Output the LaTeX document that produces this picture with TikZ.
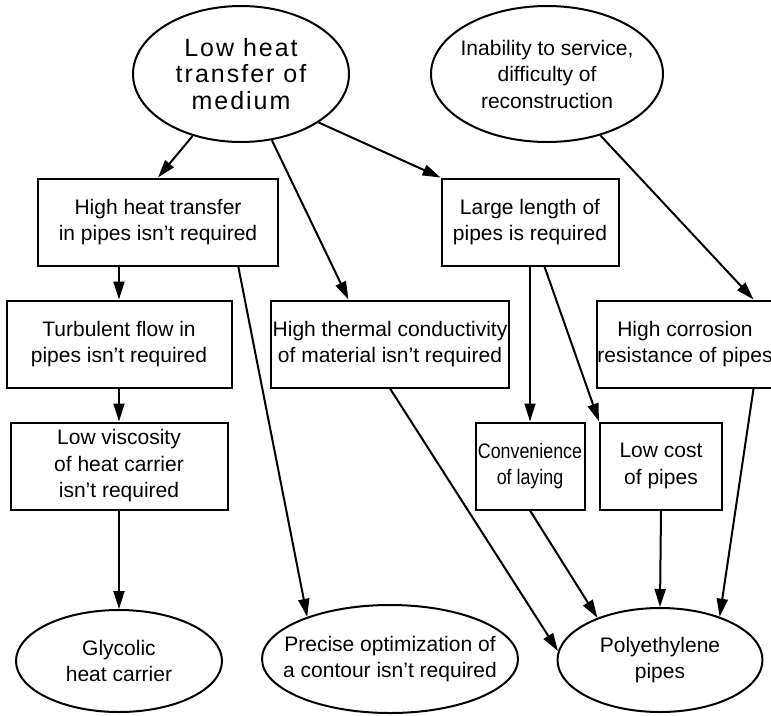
\documentclass[tikz,border=0pt]{standalone}
\usepackage{fontspec}
\setmainfont{Liberation Sans}
\newfontfamily\narrowfont[FakeStretch=0.85]{Liberation Sans}
\newfontfamily\wideheadfont[LetterSpace=8]{Liberation Sans}
\usetikzlibrary{arrows.meta, shapes.geometric}

\begin{document}
\begin{tikzpicture}[x=1pt, y=-1pt,
    box/.style={draw, line width=2pt, rectangle, inner sep=0pt, align=center,
      font=\fontsize{21}{26.5}\selectfont},
    oval/.style={draw, line width=2pt, ellipse, inner xsep=-30pt, inner ysep=0pt, align=center,
      font=\fontsize{21}{26.5}\selectfont},
    link/.style={line width=2pt, -{Triangle[length=18pt, width=11pt]}}]
  \useasboundingbox (0,0) rectangle (771,715);

  % Top causes
  \node[oval, minimum width=216, minimum height=136, font=\wideheadfont\fontsize{25}{26.5}\selectfont] (lowheat) at (241,74)
    {Low heat\\transfer of\\medium};
  \node[oval, minimum width=232, minimum height=136] (inab) at (547,74)
    {Inability to service,\\difficulty of\\reconstruction};

  % First row of boxes
  \node[box, minimum width=240, minimum height=87] (htrans) at (158,222)
    {High heat transfer\\in pipes isn't required};
  \node[box, minimum width=177, minimum height=87] (length) at (530,222)
    {Large length of\\pipes is required};

  % Second row of boxes
  \node[box, minimum width=225, minimum height=87] (turb) at (119,344)
    {Turbulent flow in\\pipes isn't required};
  \node[box, minimum width=238, minimum height=87] (hcond) at (390,344)
    {High thermal conductivity\\of material isn't required};
  \node[box, minimum width=174, minimum height=87] (corr) at (685,344)
    {High corrosion\\resistance of pipes};

  % Third row of boxes
  \node[box, minimum width=109, minimum height=87, font=\narrowfont\fontsize{21}{26.5}\selectfont] (conv) at (530,466)
    {Convenience\\of laying};
  \node[box, minimum width=217, minimum height=87] (visc) at (119,466)
    {Low viscosity\\of heat carrier\\isn't required};
  \node[box, minimum width=122, minimum height=87] (cost) at (661,466)
    {Low cost\\of pipes};

  % Results
  \node[oval, minimum width=206, minimum height=102] (glyc) at (119,661)
    {Glycolic\\heat carrier};
  \node[oval, minimum width=256, minimum height=108] (prec) at (390,659)
    {Precise optimization of\\a contour isn't required};
  \node[oval, minimum width=205, minimum height=104] (poly) at (660,660)
    {Polyethylene\\pipes};

  % Arrows
  \draw[link] (lowheat.232) -- (htrans.north);
  \draw[link] (lowheat.295) -- (hcond.133.6);
  \draw[link] (lowheat.328) -- (length.north west);
  \draw[link] (htrans.south -| turb.north) -- (turb.north);
  \draw[link] (htrans.-29.4) -- (prec.153);
  \draw[link] (turb.south) -- (visc.north);
  \draw[link] (visc.south) -- (glyc.north);
  \draw[link] (length.south) -- (conv.north);
  \draw[link] (length.288.8) -- (cost.north west);
  \draw[link] (inab.311.3) -- (corr.33);
  \draw[link] (hcond.south) -- (poly.175.4);
  \draw[link] (conv.south) -- (poly.146);
  \draw[link] (cost.south) -- (poly.north);
  \draw[link] (corr.-33.7) -- (poly.36.6);
\end{tikzpicture}
\end{document}
